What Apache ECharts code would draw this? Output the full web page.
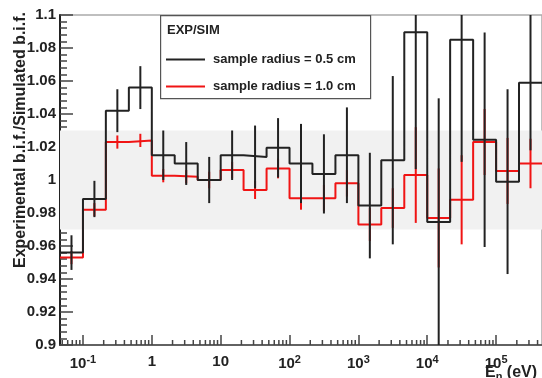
<!DOCTYPE html>
<html>
<head>
<meta charset="utf-8">
<script src="https://cdn.jsdelivr.net/npm/echarts@6/dist/echarts.min.js"></script>
<style>
  html, body { margin: 0; padding: 0; background: #fff; }
  #chart { width: 542px; height: 378px; }
</style>
</head>
<body>
<div id="chart"></div>
<script>
// bin edges in eV (three bins per decade)
const binEdges = [0.0464, 0.1, 0.215, 0.464, 1, 2.15, 4.64, 10, 21.5, 46.4, 100, 215, 464,
  1000, 2150, 4640, 10000, 21500, 46400, 100000, 215000, 464000]

// sample radius = 0.5 cm
const ratio05 = [0.956, 0.9885, 1.042, 1.056, 1.015, 1.010, 1.000, 1.015, 1.014, 1.0195, 1.010,
  1.0037, 1.015, 0.9845, 1.012, 1.0896, 0.9745, 1.085, 1.0244, 0.999, 1.059]
const err05 = [0.0105, 0.011, 0.013, 0.013, 0.015, 0.013, 0.014, 0.015, 0.019, 0.018, 0.024,
  0.024, 0.029, 0.032, 0.051, 0.083, 0.075, 0.074, 0.065, 0.056, 0.041]

// sample radius = 1.0 cm
const ratio10 = [0.953, 0.982, 1.023, 1.024, 1.0026, 1.002, 1.000, 1.006, 0.994, 1.007, 0.989,
  0.989, 0.998, 0.973, 0.983, 1.003, 0.977, 0.988, 1.023, 1.0055, 1.010]
const err10 = [0.004, 0.004, 0.004, 0.004, 0.004, 0.004, 0.005, 0.005, 0.0055, 0.006, 0.007,
  0.008, 0.008, 0.010, 0.012, 0.029, 0.030, 0.027, 0.020, 0.020, 0.015]

const bandRange = [0.97, 1.03]
const minorMultipliers = [2, 3, 4, 5, 6, 7, 8, 9]
const decades = [-2, -1, 0, 1, 2, 3, 4, 5]

const FONT = '"Liberation Sans", Arial, Helvetica, sans-serif'
const BLACK = '#222'
const RED = '#f01414'

function stepPoints(values) {
  const pts = []
  values.forEach((v, i) => {
    pts.push([binEdges[i], v])
    pts.push([binEdges[i + 1], v])
  })
  return pts
}

function errPoints(values, errs) {
  return values.map((v, i) => [Math.sqrt(binEdges[i] * binEdges[i + 1]), v, errs[i]])
}

const minorTicks = []
decades.forEach(d => {
  minorMultipliers.forEach(k => {
    const v = k * Math.pow(10, d)
    if (v > binEdges[0] && v < binEdges[binEdges.length - 1]) minorTicks.push([v])
  })
})

function errRenderer(color) {
  return (params, api) => {
    const x = api.value(0), y = api.value(1), e = api.value(2)
    const top = api.coord([x, y + e])
    const bot = api.coord([x, y - e])
    const cs = params.coordSys
    const y1 = Math.max(top[1], cs.y)
    const y2 = Math.min(bot[1], cs.y + cs.height)
    return {
      type: 'line',
      shape: { x1: top[0], y1: y1, x2: top[0], y2: y2 },
      style: { stroke: color, lineWidth: 2 }
    }
  }
}

const chart = echarts.init(document.getElementById('chart'))

const option = {
  animation: false,
  grid: {
    left: 60, right: -2, top: 15, bottom: 33,
    show: true, borderColor: '#aaa', borderWidth: 1.5, backgroundColor: 'transparent'
  },
  legend: {
    left: 161, top: 47, orient: 'vertical',
    icon: 'rect', itemWidth: 39, itemHeight: 2, itemGap: 12,
    data: ['sample radius = 0.5 cm', 'sample radius = 1.0 cm'],
    textStyle: { fontFamily: FONT, fontWeight: 'bold', fontSize: 13, color: '#222', padding: [0, 0, 0, 3], lineHeight: 15 },
    z: 6
  },
  xAxis: {
    type: 'log', logBase: 10,
    min: binEdges[0], max: binEdges[binEdges.length - 1],
    axisLine: { lineStyle: { color: '#444', width: 1.5 } },
    axisTick: { inside: true, length: 10, lineStyle: { color: '#444', width: 1.5 } },
    splitLine: { show: false },
    minorTick: { show: false },
    axisLabel: {
      showMinLabel: false, showMaxLabel: false, margin: 9,
      formatter: value => {
        const lg = Math.log10(value)
        const exp = Math.round(lg)
        if (Math.abs(lg - exp) > 1e-6) return ''
        if (exp === 0) return '{b|1}'
        if (exp === 1) return '{b|10}'
        return '{b|10}{s|' + exp + '}'
      },
      rich: {
        b: { fontFamily: FONT, fontWeight: 'bold', fontSize: 15, color: '#222' },
        s: { fontFamily: FONT, fontWeight: 'bold', fontSize: 11, color: '#222', padding: [0, 0, 9, 0] }
      }
    }
  },
  yAxis: {
    type: 'value', min: 0.9, max: 1.1, interval: 0.02,
    axisLine: { show: true, lineStyle: { color: '#222', width: 2 } },
    axisTick: { inside: true, length: 13, lineStyle: { color: '#444', width: 1.5 } },
    minorTick: { show: true, splitNumber: 5, length: 7, lineStyle: { color: '#444', width: 1.5 } },
    splitLine: { show: false },
    axisLabel: {
      margin: 4,
      fontFamily: FONT, fontWeight: 'bold', fontSize: 15, color: '#222',
      formatter: v => parseFloat(v.toFixed(2)).toString()
    }
  },
  series: [
    {
      name: 'band', type: 'line', data: [], silent: true,
      markArea: {
        silent: true,
        itemStyle: { color: '#f1f1f1' },
        data: [[{ yAxis: bandRange[0] }, { yAxis: bandRange[1] }]]
      }
    },
    {
      name: 'sample radius = 1.0 cm', type: 'line', data: stepPoints(ratio10),
      symbol: 'none', color: RED, lineStyle: { color: RED, width: 2 }, z: 3
    },
    {
      name: 'err10', type: 'custom', data: errPoints(ratio10, err10),
      renderItem: errRenderer(RED), z: 3, silent: true
    },
    {
      name: 'sample radius = 0.5 cm', type: 'line', data: stepPoints(ratio05),
      symbol: 'none', color: BLACK, lineStyle: { color: BLACK, width: 2 }, z: 4
    },
    {
      name: 'err05', type: 'custom', data: errPoints(ratio05, err05),
      renderItem: errRenderer(BLACK), z: 4, silent: true
    },
    {
      name: 'minorTicks', type: 'custom', data: minorTicks, silent: true, z: 5,
      renderItem: (params, api) => {
        const p = api.coord([api.value(0), 0.9])
        return {
          type: 'line',
          shape: { x1: p[0], y1: p[1], x2: p[0], y2: p[1] - 5 },
          style: { stroke: '#444', lineWidth: 1.5 }
        }
      }
    }
  ],
  graphic: [
    {
      type: 'rect', left: 160, top: 15, z: 5,
      shape: { width: 210, height: 83 },
      style: { fill: '#fff', stroke: '#555', lineWidth: 1.2 }
    },
    {
      type: 'text', left: 167, top: 24, z: 7,
      style: { text: 'EXP/SIM', font: 'bold 13px ' + FONT, fill: '#222' }
    },
    {
      type: 'text', x: 21, y: 140, rotation: Math.PI / 2, z: 7,
      style: {
        text: 'Experimental b.i.f./Simulated b.i.f.', font: 'bold 16px ' + FONT, fill: '#222',
        align: 'center', verticalAlign: 'middle'
      }
    },
    {
      type: 'text', x: 485, y: 363, z: 7,
      style: {
        text: '{e|E}{n|n}{e| (eV)}',
        rich: {
          e: { font: 'bold 16px ' + FONT, fill: '#222' },
          n: { font: 'bold 11px ' + FONT, fill: '#222', padding: [8, 0, 0, 0] }
        }
      }
    }
  ]
}

chart.setOption(option)
window.addEventListener('resize', () => {
  chart.resize()
})
</script>
</body>
</html>
